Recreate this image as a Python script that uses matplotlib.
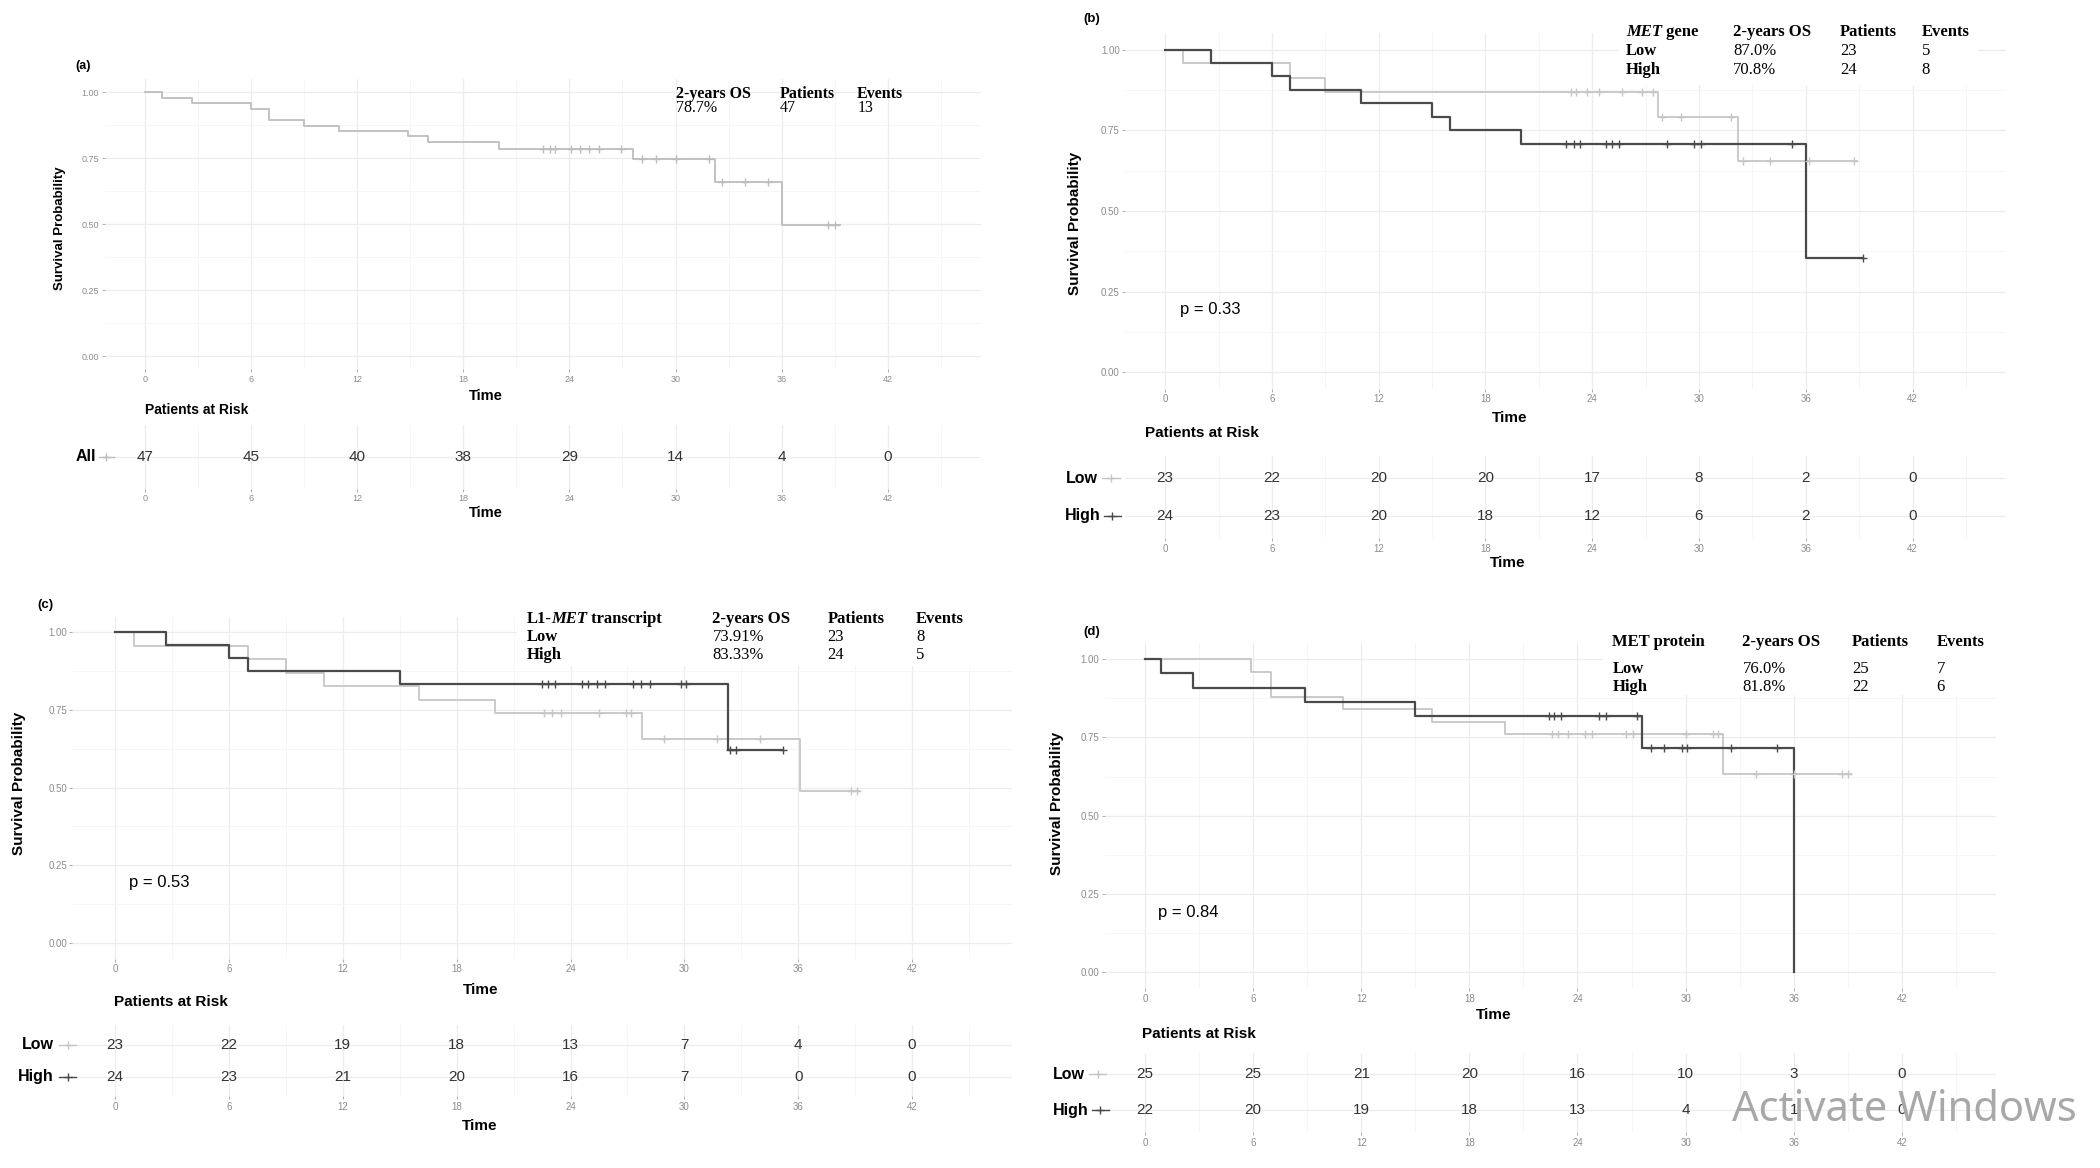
import numpy as np
import matplotlib.pyplot as plt
from matplotlib.lines import Line2D
from matplotlib.patches import Rectangle
from matplotlib.text import Annotation

# layout positions below were measured on a 1568x872 copy of the figure
W, H = 1568, 872
XLIM = (-2.25, 47.25)

SANS = "Liberation Sans"
SERIF = "Liberation Serif"
LIGHT = "#c6c6c6"
DARK = "#4a4a4a"

months = [0, 6, 12, 18, 24, 30, 36, 42]

# ---- (a) all patients ----
a_time = [0, 1.0, 2.7, 6.0, 7.0, 9.0, 11.0, 14.9, 16.0, 20.0, 27.6, 32.2, 36.0, 39.3]
a_surv = [1.0, 0.980, 0.960, 0.939, 0.896, 0.872, 0.853, 0.833, 0.811, 0.787, 0.749, 0.660, 0.496, 0.496]
a_cens = [22.5, 22.9, 23.2, 24.1, 24.6, 25.1, 25.7, 26.9, 28.1, 28.9, 30.0, 31.9,
          32.6, 33.9, 35.2, 38.6, 39.0]
a_risk = [47, 45, 40, 38, 29, 14, 4, 0]

# ---- (b) MET gene ----
b_low_time = [0, 1.0, 7.0, 9.0, 27.7, 32.2, 38.9]
b_low_surv = [1.0, 0.957, 0.913, 0.870, 0.790, 0.656, 0.656]
b_low_cens = [22.8, 23.1, 23.7, 24.4, 25.7, 26.8, 27.4, 27.9, 29.0, 31.8, 32.5, 34.0, 36.2, 38.7]
b_high_time = [0, 2.6, 6.0, 7.0, 11.0, 15.0, 16.0, 20.0, 36.0, 39.2]
b_high_surv = [1.0, 0.958, 0.917, 0.875, 0.833, 0.792, 0.750, 0.708, 0.354, 0.354]
b_high_cens = [22.5, 23.0, 23.3, 24.8, 25.1, 25.5, 28.2, 29.7, 30.1, 35.2, 39.2]
b_risk_low = [23, 22, 20, 20, 17, 8, 2, 0]
b_risk_high = [24, 23, 20, 18, 12, 6, 2, 0]

# ---- (c) L1-MET transcript ----
c_low_time = [0, 1.0, 7.0, 9.0, 11.0, 16.0, 20.0, 27.75, 36.1, 39.2]
c_low_surv = [1.0, 0.957, 0.913, 0.870, 0.826, 0.783, 0.739, 0.657, 0.490, 0.490]
c_low_cens = [22.6, 23.0, 23.5, 25.5, 26.9, 27.2, 28.9, 31.7, 34.0, 38.8, 39.1]
c_high_time = [0, 2.7, 6.0, 7.0, 15.0, 32.3, 35.2]
c_high_surv = [1.0, 0.958, 0.917, 0.875, 0.833, 0.622, 0.622]
c_high_cens = [22.5, 22.8, 23.2, 24.6, 24.9, 25.4, 25.8, 27.3, 27.7, 28.2, 29.8, 30.1,
               32.4, 32.7, 35.2]
c_risk_low = [23, 22, 19, 18, 13, 7, 4, 0]
c_risk_high = [24, 23, 21, 20, 16, 7, 0, 0]

# ---- (d) MET protein ----
d_low_time = [0, 5.9, 7.0, 11.0, 15.9, 20.0, 32.1, 39.2]
d_low_surv = [1.0, 0.960, 0.880, 0.840, 0.800, 0.760, 0.633, 0.633]
d_low_cens = [22.6, 22.9, 23.5, 24.4, 24.8, 26.7, 27.1, 30.0, 31.5, 31.8, 33.9, 36.0, 38.7, 39.0]
d_high_time = [0, 0.9, 2.65, 8.9, 15.0, 27.6, 36.0]
d_high_surv = [1.0, 0.955, 0.909, 0.864, 0.818, 0.716, 0.0]
d_high_cens = [22.4, 22.7, 23.1, 25.2, 25.6, 27.3, 28.1, 28.8, 29.8, 30.1, 32.5, 35.1]
d_risk_low = [25, 25, 21, 20, 16, 10, 3, 0]
d_risk_high = [22, 20, 19, 18, 13, 4, 1, 0]

fig = plt.figure(figsize=(21, 11.68), dpi=100)


def fig_box(x0, x42, y_ref, v_ref, unit, ylim):
    # axes rectangle from pixel positions of x=0, x=42 and one y value
    sx = (x42 - x0) / 42.0
    left = x0 + XLIM[0] * sx
    right = x0 + XLIM[1] * sx
    top = y_ref - (ylim[1] - v_ref) * unit
    bottom = y_ref + (v_ref - ylim[0]) * unit
    return [left / W, 1 - bottom / H, (right - left) / W, (bottom - top) / H]


def T(x, y, s, **kw):
    kw.setdefault("family", SANS)
    kw.setdefault("va", "center")
    kw.setdefault("ha", "left")
    return fig.text(x / W, 1 - y / H, s, **kw)


def chain(first, pieces, **kw):
    # put text pieces one after another (used for the italic MET)
    t = first
    for s, st in pieces:
        a = Annotation(s, xy=(1, 0), xycoords=t, va="bottom", ha="left",
                       style=st, **kw)
        fig.add_artist(a)
        t = a
    return t


def base_style(ax, fs=7):
    ax.set_xlim(*XLIM)
    ax.set_xticks(months)
    ax.set_xticks(np.arange(3, 46, 6), minor=True)
    ax.set_xticklabels([str(m) for m in months])
    ax.grid(which="major", color="#ededed", lw=0.9)
    ax.grid(which="minor", color="#f5f5f5", lw=0.6)
    ax.set_axisbelow(True)
    for s in ax.spines.values():
        s.set_visible(False)
    ax.tick_params(which="major", length=2.5, width=0.6, color="#a0a0a0",
                   labelsize=fs, labelcolor="#8c8c8c", pad=1.5)
    ax.tick_params(which="minor", length=0)
    for lab in ax.get_xticklabels() + ax.get_yticklabels():
        lab.set_family(SANS)


def km_panel(rect, curves, mask=None, fs=7):
    ax = fig.add_axes(rect)
    base_style(ax, fs)
    ax.set_ylim(-0.05, 1.05)
    ax.set_yticks([0, 0.25, 0.5, 0.75, 1.0])
    ax.set_yticks([0.125, 0.375, 0.625, 0.875], minor=True)
    ax.set_yticklabels(["0.00", "0.25", "0.50", "0.75", "1.00"])
    for lab in ax.get_yticklabels():
        lab.set_family(SANS)
    if mask is not None:
        ax.add_patch(Rectangle((mask[0], mask[2]), mask[1] - mask[0], 1.05 - mask[2],
                               color="white", zorder=1, lw=0))
    for t, s, cens, color, lw in curves:
        t = np.asarray(t)
        s = np.asarray(s)
        ax.step(t, s, where="post", color=color, lw=lw, zorder=3)
        cy = s[np.searchsorted(t, cens, side="right") - 1]
        ax.plot(cens, cy, ls="none", marker="+", ms=5.5, mew=1.0, color=color, zorder=4)
    return ax


def risk_panel(rect, rows, fs=7):
    ax = fig.add_axes(rect)
    base_style(ax, fs)
    n = len(rows)
    ax.set_ylim(0.4, n + 0.6)
    ax.set_yticks(range(1, n + 1))
    ax.tick_params(axis="y", length=0, labelleft=False)
    for i, vals in enumerate(rows):
        yv = n - i
        for m, v in zip(months, vals):
            ax.text(m, yv, str(v), ha="center", va="center", fontsize=11,
                    family=SANS, color="#333333")
    return ax


def row_label(text, xr, y, x1, x2, color):
    T(xr, y, text, ha="right", weight="bold", size=11.5, color="black")
    fig.add_artist(Line2D([x1 / W, (x1 + x2) / 2 / W, x2 / W], [1 - y / H] * 3,
                          transform=fig.transFigure, color=color, lw=1.0,
                          marker="+", ms=6, mew=1.0, markevery=[1]))


LEG = 12

# ================= (a) =================
km_panel(fig_box(108, 663, 69, 1.0, 197, (-0.05, 1.05)),
         [(a_time, a_surv, a_cens, "#bdbdbd", 1.3)], fs=6.5)
risk_panel(fig_box(108, 663, 341, 1, 40, (0.4, 1.6)), [a_risk], fs=6.5)
T(62, 49, "(a)", ha="center", weight="bold", size=9)
T(45, 170, "Survival Probability", ha="center", rotation=90, weight="bold", size=9.5)
T(363, 296, "Time", ha="center", weight="bold", size=10.5)
T(108, 306, "Patients at Risk", weight="bold", size=10)
T(363, 383, "Time", ha="center", weight="bold", size=10.5)
row_label("All", 72, 341, 74, 85, "#bdbdbd")
for x, h, v in zip([505, 582, 640], ["2-years OS", "Patients", "Events"], ["78.7%", "47", "13"]):
    T(x, 70, h, family=SERIF, weight="bold", size=11.5)
    T(x, 81, v, family=SERIF, size=11.5)

# ================= (b) =================
km_panel(fig_box(870, 1428, 37, 1.0, 241, (-0.05, 1.05)),
         [(b_low_time, b_low_surv, b_low_cens, LIGHT, 1.3),
          (b_high_time, b_high_surv, b_high_cens, DARK, 1.6)],
         mask=(25.5, 45.7, 0.89))
risk_panel(fig_box(870, 1428, 357, 2, 28, (0.4, 2.6)), [b_risk_low, b_risk_high])
T(815, 14, "(b)", ha="center", weight="bold", size=9.5)
T(803, 167, "Survival Probability", ha="center", rotation=90, weight="bold", size=11)
T(881, 231, "p = 0.33", size=12)
T(1127, 312, "Time", ha="center", weight="bold", size=11)
T(855, 323, "Patients at Risk", weight="bold", size=11)
T(1126, 420, "Time", ha="center", weight="bold", size=11)
row_label("Low", 820, 357, 823, 836, LIGHT)
row_label("High", 822, 385, 824, 837, DARK)
t = T(1214, 24, "MET", family=SERIF, weight="bold", style="italic", size=LEG)
chain(t, [(" gene", "normal")], family=SERIF, weight="bold", size=LEG)
for x, h in zip([1294, 1374, 1435], ["2-years OS", "Patients", "Events"]):
    T(x, 24, h, family=SERIF, weight="bold", size=LEG)
for y, g, vals in [(38, "Low", ["87.0%", "23", "5"]), (52, "High", ["70.8%", "24", "8"])]:
    T(1214, y, g, family=SERIF, weight="bold", size=LEG)
    for x, v in zip([1294, 1374, 1435], vals):
        T(x, y, v, family=SERIF, size=LEG)

# ================= (c) =================
km_panel(fig_box(86, 681, 472, 1.0, 232, (-0.05, 1.05)),
         [(c_low_time, c_low_surv, c_low_cens, LIGHT, 1.3),
          (c_high_time, c_high_surv, c_high_cens, DARK, 1.6)],
         mask=(21.2, 47.25, 0.89))
risk_panel(fig_box(86, 681, 780, 2, 24, (0.4, 2.6)), [c_risk_low, c_risk_high])
T(34, 452, "(c)", ha="center", weight="bold", size=9.5)
T(14, 585, "Survival Probability", ha="center", rotation=90, weight="bold", size=11)
T(96, 659, "p = 0.53", size=12)
T(359, 739, "Time", ha="center", weight="bold", size=11)
T(85, 748, "Patients at Risk", weight="bold", size=11)
T(358, 841, "Time", ha="center", weight="bold", size=11)
row_label("Low", 40, 780, 44, 57, LIGHT)
row_label("High", 40, 804, 44, 57, DARK)
t = T(393, 462, "L1-", family=SERIF, weight="bold", size=LEG)
chain(t, [("MET", "italic"), (" transcript", "normal")], family=SERIF, weight="bold", size=LEG)
for x, h in zip([532, 618, 684], ["2-years OS", "Patients", "Events"]):
    T(x, 462, h, family=SERIF, weight="bold", size=LEG)
for y, g, vals in [(475.5, "Low", ["73.91%", "23", "8"]), (489, "High", ["83.33%", "24", "5"])]:
    T(393, y, g, family=SERIF, weight="bold", size=LEG)
    for x, v in zip([532, 618, 684], vals):
        T(x, y, v, family=SERIF, size=LEG)

# ================= (d) =================
km_panel(fig_box(855, 1420, 492, 1.0, 234, (-0.05, 1.05)),
         [(d_low_time, d_low_surv, d_low_cens, LIGHT, 1.3),
          (d_high_time, d_high_surv, d_high_cens, DARK, 1.6)],
         mask=(25.4, 47.25, 0.885))
risk_panel(fig_box(855, 1420, 802, 2, 27, (0.4, 2.6)), [d_risk_low, d_risk_high])
T(815, 472, "(d)", ha="center", weight="bold", size=9.5)
T(789, 600, "Survival Probability", ha="center", rotation=90, weight="bold", size=11)
T(865, 681, "p = 0.84", size=12)
T(1115, 758, "Time", ha="center", weight="bold", size=11)
T(853, 772, "Patients at Risk", weight="bold", size=11)
row_label("Low", 810, 802, 813, 826, LIGHT)
row_label("High", 813, 829, 815, 828, DARK)
for x, h in zip([1204, 1301, 1383, 1446], ["MET protein", "2-years OS", "Patients", "Events"]):
    T(x, 479, h, family=SERIF, weight="bold", size=LEG)
for y, g, vals in [(499.5, "Low", ["76.0%", "25", "7"]), (512.7, "High", ["81.8%", "22", "6"])]:
    T(1204, y, g, family=SERIF, weight="bold", size=LEG)
    for x, v in zip([1301, 1383, 1446], vals):
        T(x, y, v, family=SERIF, size=LEG)

# screen watermark captured in the original (it sits over the last numbers there too)
T(1293, 829, "Activate Windows", family="Noto Sans", size=30, color="#a8a8a8", zorder=10)

fig.savefig("out.png", dpi=100)
